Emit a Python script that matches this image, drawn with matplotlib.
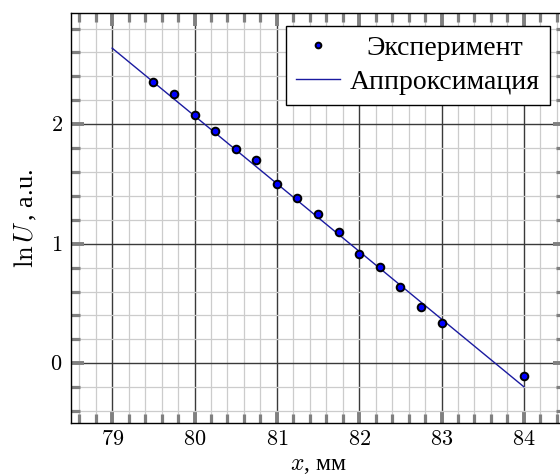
import matplotlib
matplotlib.use("Agg")
import matplotlib.pyplot as plt
from matplotlib.ticker import MultipleLocator, FuncFormatter

# data
x_exp = [79.5, 79.75, 80.0, 80.25, 80.5, 80.75, 81.0, 81.25, 81.5, 81.75,
         82.0, 82.25, 82.5, 82.75, 83.0, 84.0]
lnU_exp = [2.35, 2.25, 2.075, 1.945, 1.79, 1.70, 1.50, 1.386, 1.25, 1.097,
           0.914, 0.808, 0.639, 0.469, 0.336, -0.106]
x_fit = [79.0, 84.0]
lnU_fit = [2.636, -0.197]
label_exp = "Эксперимент"
label_fit = "Аппроксимация"
xlabel = r"$x$, мм"
ylabel = r"$\ln U\,$, a.u."

plt.rcParams['mathtext.fontset'] = 'cm'
plt.rcParams['font.family'] = ['Liberation Serif', 'DejaVu Serif']
plt.rcParams['font.size'] = 14

fig = plt.figure(figsize=(5.6, 4.75), dpi=100)
ax = fig.add_axes([71/560, 52/475, (565-71)/560, (423-13)/475])

ax.plot(x_fit, lnU_fit, color='#1a1aa0', lw=1.0, label=label_fit, zorder=3)
ax.plot(x_exp, lnU_exp, 'o', ls='none', ms=5.5, mfc='#0000ff', mec='black',
        mew=1.4, label=label_exp, zorder=4)

ax.set_xlim(78.5, 84.5)
ax.set_ylim(-0.5, 2.93)
ax.xaxis.set_major_locator(MultipleLocator(1))
ax.xaxis.set_minor_locator(MultipleLocator(0.2))
ax.yaxis.set_major_locator(MultipleLocator(1))
ax.yaxis.set_minor_locator(MultipleLocator(0.2))
fmt = FuncFormatter(lambda v, p: r"$%d$" % round(v))
ax.xaxis.set_major_formatter(fmt)
ax.yaxis.set_major_formatter(fmt)

ax.grid(which='minor', color='#cccccc', lw=0.9)
ax.grid(which='major', color='#3a3a3a', lw=1.0)
ax.set_axisbelow(True)

ax.tick_params(which='both', direction='in', top=True, right=True,
               color='#808080', labelsize=16)
ax.tick_params(which='major', length=9, width=2.8, pad=6)
ax.tick_params(which='minor', length=6.5, width=2.3)
for s in ax.spines.values():
    s.set_color('black')
    s.set_linewidth(1.0)

ax.set_xlabel(xlabel, fontsize=17, labelpad=3)
ax.set_ylabel(ylabel, fontsize=19, labelpad=8)

h, l = ax.get_legend_handles_labels()
leg = ax.legend([h[1], h[0]], [l[1], l[0]], loc='upper right',
                bbox_to_anchor=((550-71)/494, (423-26)/410), borderaxespad=0,
                fancybox=False, edgecolor='black', framealpha=1,
                markerscale=0.75, fontsize=20, handlelength=1.6,
                borderpad=0.35, labelspacing=0.3, handletextpad=0.35)
leg.get_frame().set_linewidth(1.0)

# center legend labels relative to each other
fig.canvas.draw()
renderer = fig.canvas.get_renderer()
texts = leg.get_texts()
widths = [t.get_window_extent(renderer).width for t in texts]
maxw = max(widths)
for t, w in zip(texts, widths):
    t.set_x((maxw - w) / 2)

fig.savefig("out.png", dpi=100)
